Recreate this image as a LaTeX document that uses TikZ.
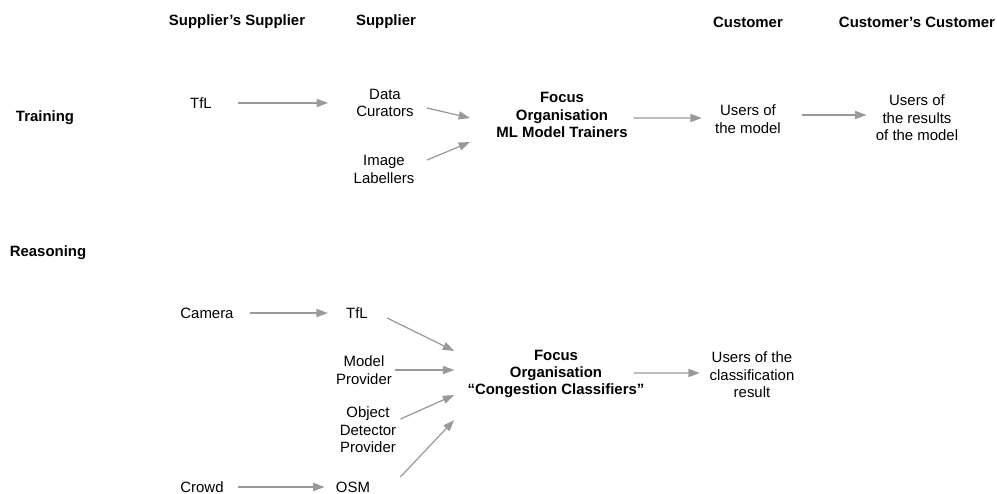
\documentclass[tikz,border=0pt]{standalone}
\usepackage{fontspec}
\setmainfont{Liberation Sans}
\usepackage{tikz}
\usetikzlibrary{positioning,arrows.meta}

\begin{document}
\begin{tikzpicture}[
    node distance=2cm,
    entity/.style={align=center, inner sep=0pt, text=black, font=\fontsize{8.5}{9.9}\selectfont},
    header/.style={entity, font=\fontsize{8.5}{9.9}\selectfont\bfseries},
    focus/.style={entity, font=\fontsize{8.5}{9.9}\selectfont\bfseries},
    arrow/.style={-{Triangle[length=6.5pt,width=4.6pt]}, draw=black!40, line width=0.7pt}
]
\useasboundingbox (0,0) rectangle (19.94,-9.86);

% Column headers
\node (hss) [header] at (4.74,-0.44) {Supplier’s Supplier};
\node (hs) [header, right of=hss, xshift=0.98cm] {Supplier};
\node (hc) [header, right of=hs, xshift=5.24cm] {Customer};
\node (hcc) [header, right of=hc, xshift=1.38cm] {Customer’s Customer};

% Training row
\node (tflT) [entity, below of=hss, xshift=-0.72cm, yshift=0.38cm] {TfL};
\node (training) [header, left of=tflT, xshift=-1.12cm, yshift=-0.30cm] {Training};
\node (curators) [entity, below of=hs, xshift=-0.02cm, yshift=0.38cm] {Data\\Curators};
\node (labellers) [entity, below of=curators, xshift=-0.02cm, yshift=0.67cm] {Image\\Labellers};
\node (focusT) [focus, right of=curators, xshift=1.54cm, yshift=-0.24cm] {Focus\\Organisation\\ML Model Trainers};
\node (usersT) [entity, below of=hc, yshift=0.06cm] {Users of\\the model};
\node (resultsT) [entity, below of=hcc, yshift=0.08cm] {Users of\\the results\\of the model};

% Reasoning row
\node (reasoning) [header, below of=training, xshift=0.06cm, yshift=-0.70cm] {Reasoning};
\node (camera) [entity, below of=tflT, xshift=0.12cm, yshift=-2.20cm] {Camera};
\node (tflR) [entity, right of=camera, xshift=1.00cm] {TfL};
\node (modelP) [entity, below of=tflR, xshift=0.14cm, yshift=0.86cm] {Model\\Provider};
\node (detector) [entity, below of=modelP, xshift=0.08cm, yshift=0.80cm] {Object\\Detector\\Provider};
\node (crowd) [entity, below of=camera, xshift=-0.10cm, yshift=-1.48cm] {Crowd};
\node (osm) [entity, right of=crowd, xshift=1.02cm] {OSM};
\node (focusR) [focus, right of=modelP, xshift=1.84cm, yshift=-0.08cm] {Focus\\Organisation\\“Congestion Classifiers”};
\node (usersR) [entity, right of=focusR, xshift=1.92cm, yshift=-0.02cm] {Users of the\\classification\\result};

% Arrows (training)
\draw[arrow] ([xshift=0.52cm]tflT.east) -- ([xshift=-0.56cm]curators.west);
\draw[arrow] ([xshift=0.26cm, yshift=-0.10cm]curators.east) -- ([xshift=-0.52cm, yshift=-0.06cm]focusT.west);
\draw[arrow] ([xshift=0.25cm, yshift=0.19cm]labellers.east) -- ([xshift=-0.52cm, yshift=-0.54cm]focusT.west);
\draw[arrow] ([xshift=0.11cm, yshift=-0.06cm]focusT.east) -- ([xshift=-0.26cm, yshift=0.02cm]usersT.west);
\draw[arrow] ([xshift=0.42cm, yshift=0.08cm]usersT.east) -- ([xshift=-0.18cm, yshift=0.06cm]resultsT.west);

% Arrows (reasoning)
\draw[arrow] ([xshift=0.33cm]camera.east) -- ([xshift=-0.36cm]tflR.west);
\draw[arrow] ([xshift=0.38cm, yshift=-0.10cm]tflR.east) -- ([xshift=-0.26cm, yshift=0.46cm]focusR.west);
\draw[arrow] ([xshift=0.06cm]modelP.east) -- ([xshift=-0.26cm, yshift=0.08cm]focusR.west);
\draw[arrow] ([xshift=0.08cm, yshift=0.22cm]detector.east) -- ([xshift=-0.26cm, yshift=-0.42cm]focusR.west);
\draw[arrow] ([xshift=0.28cm]crowd.east) -- ([xshift=-0.22cm]osm.west);
\draw[arrow] ([xshift=0.60cm, yshift=0.20cm]osm.east) -- ([xshift=-0.26cm, yshift=-0.92cm]focusR.west);
\draw[arrow] ([xshift=-0.22cm, yshift=0.02cm]focusR.east) -- ([xshift=-0.19cm, yshift=0.04cm]usersR.west);

\end{tikzpicture}
\end{document}
